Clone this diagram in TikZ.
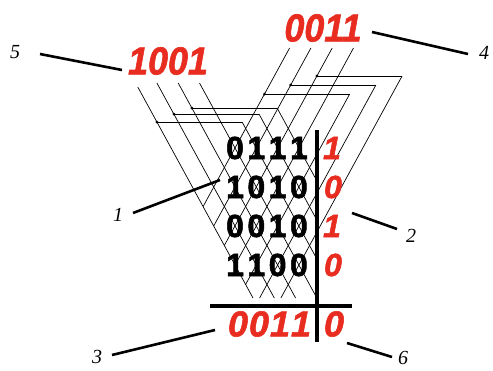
\documentclass[tikz,border=0pt]{standalone}
\usepackage{fontspec}
\setmainfont{Liberation Sans}
\newfontfamily\lblfont{Liberation Serif}
\newfontfamily\heavyfont{Liberation Sans}[BoldFont={Liberation Sans Bold},BoldItalicFont={Liberation Sans Bold Italic},BoldFeatures={FakeBold=1.6},BoldItalicFeatures={FakeBold=1.6}]
\definecolor{myred}{RGB}{232,44,32}
\begin{document}
\begin{tikzpicture}[x=1pt,y=-1pt,
  bd/.style={font=\heavyfont\fontsize{32}{32}\selectfont\bfseries, inner sep=0pt, text=black},
  rd/.style={font=\heavyfont\fontsize{32}{32}\selectfont\bfseries\itshape, inner sep=0pt, text=myred},
  rres/.style={rd, font=\heavyfont\fontsize{36}{36}\selectfont\bfseries\itshape},
  rbig/.style={font=\heavyfont\fontsize{39}{39}\selectfont\bfseries\itshape, inner sep=0pt, text=myred, xscale=0.92},
  lbl/.style={font=\lblfont\itshape\fontsize{20}{20}\selectfont, inner sep=0pt},
  lat/.style={line width=0.7pt},
  lead/.style={line width=2.6pt},
  barline/.style={line width=3.2pt},
  dotm/.style={circle, fill=black, inner sep=0pt, minimum size=3pt}]
\useasboundingbox (0,0) rectangle (493,370);
% left family
\coordinate (L1s) at (137.8,87);  \coordinate (L1e) at (253.0,298);
\coordinate (L2s) at (156.9,83);  \coordinate (L2e) at (274.3,298);
\coordinate (L3s) at (178.2,83);  \coordinate (L3e) at (295.6,298);
\coordinate (L4s) at (199.5,83);  \coordinate (L4e) at (316.9,298);
\coordinate (L5s) at (242.1,122); \coordinate (L5e) at (317,259.2);
\coordinate (L6s) at (259.0,114); \coordinate (L6e) at (317,220.3);
\coordinate (L7s) at (277.1,108); \coordinate (L7e) at (317,181.1);
\node[dotm] (D1) at (156.9,122) {};
\node[dotm] (D2) at (173.8,114) {};
\node[dotm] (D3) at (191.9,108) {};
% right family
\coordinate (R1s) at (289.6,48);  \coordinate (R1e) at (203.1,206.5);
\coordinate (R2s) at (310.9,48);  \coordinate (R2e) at (213.7,226);
\coordinate (R3s) at (332.2,48);  \coordinate (R3e) at (224.3,245.5);
\coordinate (R4s) at (353.5,48);  \coordinate (R4e) at (235.0,265);
\coordinate (R5s) at (349.7,94);  \coordinate (R5e) at (245.6,284.5);
\coordinate (R6s) at (375.9,85);  \coordinate (R6e) at (259.6,298);
\coordinate (R7s) at (402.1,76);  \coordinate (R7e) at (280.9,298);
\node[dotm] (E1) at (264.5,94) {};
\node[dotm] (E2) at (290.7,85) {};
\node[dotm] (E3) at (316.9,76) {};
\foreach \i in {1,...,7} {
  \draw[lat] (L\i s) -- (L\i e);
  \draw[lat] (R\i s) -- (R\i e);
}
\draw[lat] (D1.center) -- (L5s);
\draw[lat] (D2.center) -- (L6s);
\draw[lat] (D3.center) -- (L7s);
\draw[lat] (E1.center) -- (R5s);
\draw[lat] (E2.center) -- (R6s);
\draw[lat] (E3.center) -- (R7s);
% grid digits
\foreach \r/\y/\a/\b/\c/\d in {1/148/0/1/1/1, 2/187/1/0/1/0, 3/226/0/0/1/0, 4/265/1/1/0/0} {
  \node[bd] (g\r a) at (235,\y) {\a};
  \node[bd] (g\r b) at (256.3,\y) {\b};
  \node[bd] (g\r c) at (277.6,\y) {\c};
  \node[bd] (g\r d) at (298.9,\y) {\d};
}
\node[rd] (c1) at (332,148) {1};
\node[rd] (c2) at (333,187) {0};
\node[rd] (c3) at (332,226) {1};
\node[rd] (c4) at (333,265) {0};
% result
\node[rres] (s1) at (238,324) {0};
\node[rres] (s2) at (259,324) {0};
\node[rres] (s3) at (280,324) {1};
\node[rres] (s4) at (301,324) {1};
\node[rres] (s5) at (334,324) {0};
% top numbers
\node[rbig] (A) at (168,61) {1001};
\node[rbig] (B) at (323,28) {0011};
% bars
\coordinate (vb1) at (317,130); \coordinate (vb2) at (317,342);
\coordinate (hb1) at (210,306); \coordinate (hb2) at (352,306);
\draw[barline] (vb1) -- (vb2);
\draw[barline] (hb1) -- (hb2);
% labels
\node[lbl] (n5) at (15,52) {5};
\node[lbl] (n4) at (484,53) {4};
\node[lbl] (n1) at (118,215) {1};
\node[lbl] (n2) at (411,236) {2};
\node[lbl] (n3) at (97,357) {3};
\node[lbl] (n6) at (403,358) {6};
\coordinate (t5) at (122,70);
\coordinate (t4) at (372,32);
\coordinate (t1) at (220,180);
\coordinate (t2) at (352,213);
\coordinate (t3) at (215,330);
\coordinate (t6) at (347,343);
\draw[lead] (40,54) -- (t5);
\draw[lead] (t4) -- (468,54);
\draw[lead] (133,213) -- (t1);
\draw[lead] (t2) -- (397,229);
\draw[lead] (112,355) -- (t3);
\draw[lead] (t6) -- (392,357);
\end{tikzpicture}
\end{document}
